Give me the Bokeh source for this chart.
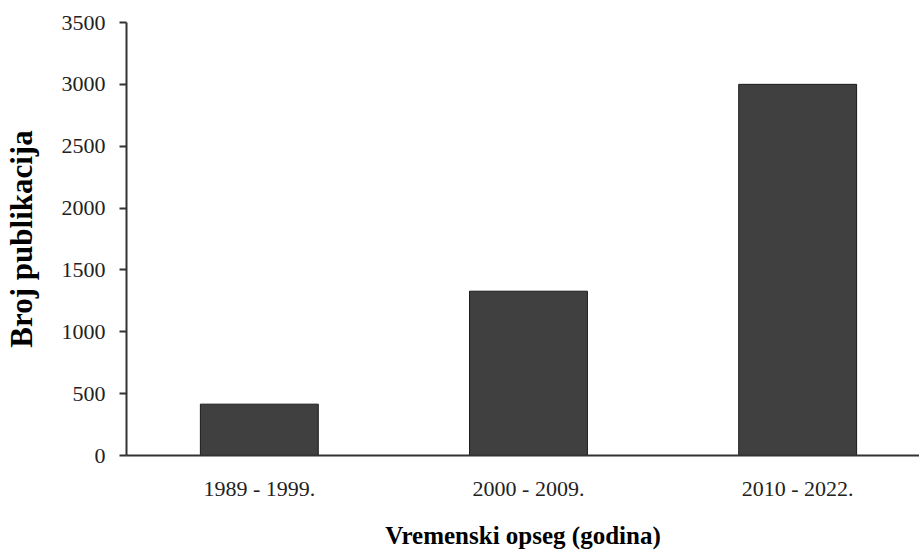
from bokeh.plotting import figure
from bokeh.models import Range1d, FixedTicker
from bokeh.embed import file_html
from bokeh.resources import INLINE

categories = ["1989 - 1999.", "2000 - 2009.", "2010 - 2022."]
counts = [415, 1328, 3000]
y_ticks = [0, 500, 1000, 1500, 2000, 2500, 3000, 3500]

xs = list(range(len(categories)))

p = figure(width=919, height=553, output_backend="svg", toolbar_location=None,
           x_range=Range1d(-0.4935, 2.4527), y_range=Range1d(0, 3500),
           min_border_left=125, min_border_right=0, min_border_top=22, min_border_bottom=98)
p.outline_line_color = None
p.xgrid.visible = False
p.ygrid.visible = False

p.vbar(x=xs, top=counts, width=0.438, bottom=0, fill_color="#404040",
       line_color="#1a1a1a", line_width=1)

FONT = "Liberation Serif"

p.yaxis.ticker = FixedTicker(ticks=y_ticks)
p.yaxis.minor_tick_line_color = None
p.yaxis.major_tick_in = 0
p.yaxis.major_tick_out = 7
p.yaxis.major_label_standoff = 14
p.yaxis.axis_line_width = 2
p.yaxis.axis_line_color = "#333333"
p.yaxis.major_tick_line_color = "#333333"
p.yaxis.major_tick_line_width = 2
p.yaxis.axis_label = "Broj publikacija"
p.yaxis.axis_label_standoff = 20

p.xaxis.ticker = FixedTicker(ticks=xs)
p.xaxis.major_label_overrides = {i: c for i, c in zip(xs, categories)}
p.xaxis.minor_tick_line_color = None
p.xaxis.major_tick_line_color = None
p.xaxis.major_tick_in = 0
p.xaxis.major_tick_out = 0
p.xaxis.major_label_standoff = 20
p.xaxis.axis_line_width = 2
p.xaxis.axis_line_color = "#333333"
p.xaxis.axis_label = "Vremenski opseg (godina)"
p.xaxis.axis_label_standoff = 18

for ax in (p.xaxis, p.yaxis):
    ax.major_label_text_font = FONT
    ax.major_label_text_font_size = "22px"
    ax.major_label_text_color = "#222222"
    ax.axis_label_text_font = FONT
    ax.axis_label_text_font_style = "bold"
    ax.axis_label_text_color = "#000000"

p.yaxis.axis_label_text_font_size = "31px"
p.xaxis.axis_label_text_font_size = "25px"

open("out.html", "w").write(file_html(p, INLINE))
